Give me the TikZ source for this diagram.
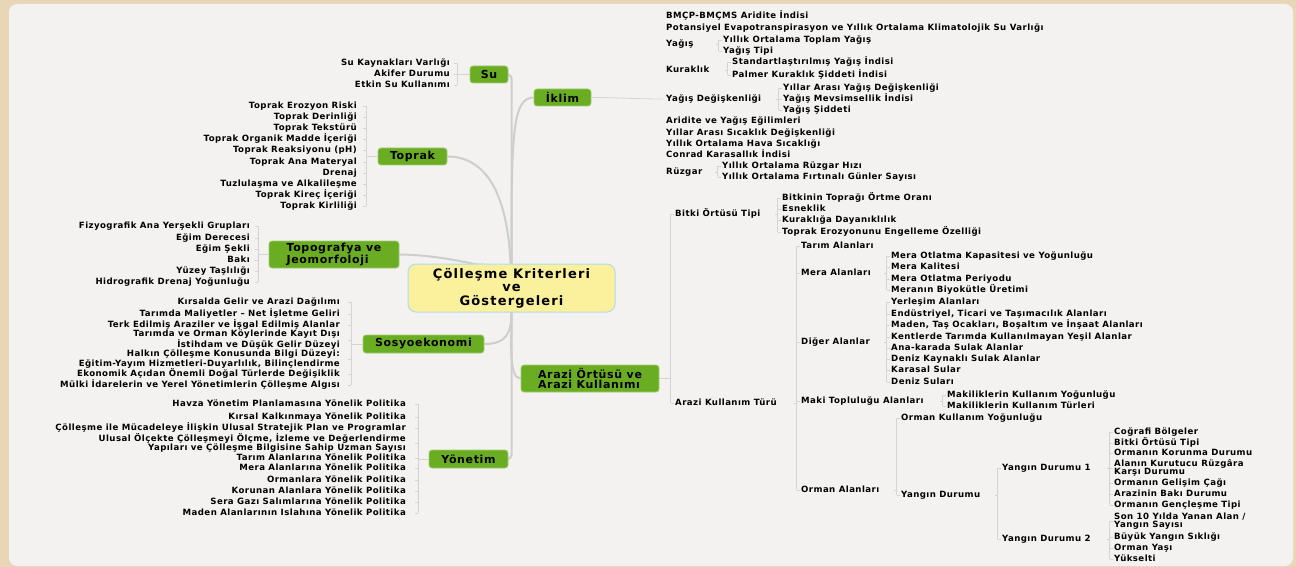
\documentclass[tikz,border=0pt]{standalone}
\usepackage{fontspec}
\setmainfont{DejaVu Sans}
\newfontfamily\leaffont[LetterSpace=5]{DejaVu Sans}
\newfontfamily\branchfont[LetterSpace=6]{DejaVu Sans}
\newfontfamily\titlefont[LetterSpace=9]{DejaVu Sans}
\definecolor{beige}{RGB}{233,214,182}
\definecolor{panel}{RGB}{243,242,240}
\definecolor{boxgreen}{RGB}{106,173,35}
\definecolor{boxedge}{RGB}{160,205,110}
\definecolor{rootfill}{RGB}{251,240,155}
\definecolor{rootedge}{RGB}{175,222,232}
\definecolor{linegray}{RGB}{206,206,206}
\definecolor{brkgray}{RGB}{212,212,212}
\pgfdeclarelayer{bg}
\pgfdeclarelayer{lines}
\pgfsetlayers{bg,lines,main}
% right-side bracket: parent, first child, last child, all children
\newcommand\brR[4]{%
  \coordinate (#2br) at ([xshift=-4.5]#2.west);
  \coordinate (#3br) at ([xshift=-4.5]#3.west);
  \draw[brk] (#2br) -- (#3br);
  \foreach \ch in {#4}{\draw[brk] ([xshift=-4.5]\ch.west) -- ([xshift=-1.5]\ch.west);}
  \draw[brk] (#2br |- #1.east) -- ++(-3,0);
}
% left-side bracket: offset, parent box, first child, last child, all children
\newcommand\brL[5]{%
  \coordinate (#3br) at ([xshift=#1]#3.east);
  \coordinate (#4br) at ([xshift=#1]#4.east);
  \draw[brk] (#3br) -- (#4br);
  \foreach \ch in {#5}{\draw[brk] ([xshift=#1]\ch.east) -- ([xshift=#1-3]\ch.east);}
  \draw[brk] (#2.west) -- (#3br |- #2.west);
}
\begin{document}
\begin{tikzpicture}[x=1pt,y=-1pt,
  leafbase/.style={inner sep=0pt, font=\leaffont\bfseries\fontsize{8.6}{8.3}\selectfont},
  leaf/.style={leafbase, text height=6.3pt, text depth=1.6pt},
  lleaf/.style={leaf, anchor=east, align=right},
  rleaf/.style={leaf, anchor=west, align=left},
  lmleaf/.style={leafbase, anchor=east, align=right},
  rmleaf/.style={leafbase, anchor=west, align=left},
  gbox/.style={fill=boxgreen, draw=boxedge, line width=0.8pt, rounded corners=3pt,
    font=\branchfont\bfseries\fontsize{11}{10.5}\selectfont, inner sep=0pt, align=left},
  rootbox/.style={fill=rootfill, draw=rootedge, line width=1pt, rounded corners=8pt,
    font=\titlefont\bfseries\fontsize{13}{13.5}\selectfont, inner sep=0pt, align=center},
  brk/.style={draw=brkgray, line width=0.8pt},
  main/.style={draw=linegray, line width=2pt},
]
\useasboundingbox (0,0) rectangle (1296,567);
\begin{pgfonlayer}{bg}
\fill[beige] (0,0) rectangle (1296,567);
\fill[panel, rounded corners=8pt] (9,4) rectangle (1293,566);
\end{pgfonlayer}

% ---------- main nodes ----------
\node[rootbox, minimum width=207pt, minimum height=48pt] (root) at (511.5,288) {Çölleşme Kriterleri\\ve\\Göstergeleri};
\node[gbox, minimum width=38pt, minimum height=17pt] (su) at (489,74.5) {Su};
\node[gbox, minimum width=57pt, minimum height=17pt] (iklim) at (562.5,97.5) {İklim};
\node[gbox, minimum width=69pt, minimum height=17pt] (toprak) at (412.5,156.5) {Toprak};
\node[gbox, minimum width=130pt, minimum height=27pt] (topo) at (334,254.5) {Topografya ve\\Jeomorfoloji};
\node[gbox, minimum width=121pt, minimum height=18pt] (sosyo) at (423.5,344) {Sosyoekonomi};
\node[gbox, minimum width=138pt, minimum height=27pt] (arazi) at (590,378.5) {Arazi Örtüsü ve\\Arazi Kullanımı};
\node[gbox, minimum width=79pt, minimum height=18pt] (yonetim) at (468.5,459) {Yönetim};

% ---------- Su ----------
\node[lleaf] (su1) at (450,63) {Su Kaynakları Varlığı};
\node[lleaf] (su2) at (450,74) {Akifer Durumu};
\node[lleaf] (su3) at (450,85) {Etkin Su Kullanımı};
\brL{7}{su}{su1}{su3}{su1,su2,su3}

% ---------- Toprak ----------
\node[lleaf] (t1) at (357,106) {Toprak Erozyon Riski};
\node[lleaf] (t2) at (357,117) {Toprak Derinliği};
\node[lleaf] (t3) at (357,128) {Toprak Tekstürü};
\node[lleaf] (t4) at (357,139) {Toprak Organik Madde İçeriği};
\node[lleaf] (t5) at (357,150) {Toprak Reaksiyonu (pH)};
\node[lleaf] (t6) at (357,162) {Toprak Ana Materyal};
\node[lleaf] (t7) at (357,173) {Drenaj};
\node[lleaf] (t8) at (357,184) {Tuzlulaşma ve Alkalileşme};
\node[lleaf] (t9) at (357,195) {Toprak Kireç İçeriği};
\node[lleaf] (t10) at (357,206) {Toprak Kirliliği};
\brL{9}{toprak}{t1}{t10}{t1,t2,t3,t4,t5,t6,t7,t8,t9,t10}

% ---------- Topografya ----------
\node[lleaf] (g1) at (250,226) {Fizyografik Ana Yerşekli Grupları};
\node[lleaf] (g2) at (250,238) {Eğim Derecesi};
\node[lleaf] (g3) at (250,249) {Eğim Şekli};
\node[lleaf] (g4) at (250,260) {Bakı};
\node[lleaf] (g5) at (250,271) {Yüzey Taşlılığı};
\node[lleaf] (g6) at (250,282) {Hidrografik Drenaj Yoğunluğu};
\brL{8}{topo}{g1}{g6}{g1,g2,g3,g4,g5,g6}

% ---------- Sosyoekonomi ----------
\node[lleaf] (s1) at (340,302) {Kırsalda Gelir ve Arazi Dağılımı};
\node[lleaf] (s2) at (340,314) {Tarımda Maliyetler – Net İşletme Geliri};
\node[lleaf] (s3) at (340,325) {Terk Edilmiş Araziler ve İşgal Edilmiş Alanlar};
\node[lmleaf] (s4) at (340,340) {Tarımda ve Orman Köylerinde Kayıt Dışı\\İstihdam ve Düşük Gelir Düzeyi};
\node[lmleaf] (s5) at (340,359) {Halkın Çölleşme Konusunda Bilgi Düzeyi:\\Eğitim-Yayım Hizmetleri-Duyarlılık, Bilinçlendirme};
\node[lleaf] (s6) at (340,374) {Ekonomik Açıdan Önemli Doğal Türlerde Değişiklik};
\node[lleaf] (s7) at (340,385) {Mülki İdarelerin ve Yerel Yönetimlerin Çölleşme Algısı};
\brL{11}{sosyo}{s1}{s7}{s1,s2,s3,s4,s5,s6,s7}

% ---------- Yönetim ----------
\node[lleaf] (n1) at (406,404) {Havza Yönetim Planlamasına Yönelik Politika};
\node[lleaf] (n2) at (406,417) {Kırsal Kalkınmaya Yönelik Politika};
\node[lleaf] (n3) at (406,428) {Çölleşme ile Mücadeleye İlişkin Ulusal Stratejik Plan ve Programlar};
\node[lmleaf] (n4) at (406,443) {Ulusal Ölçekte Çölleşmeyi Ölçme, İzleme ve Değerlendirme\\Yapıları ve Çölleşme Bilgisine Sahip Uzman Sayısı};
\node[lleaf] (n5) at (406,458) {Tarım Alanlarına Yönelik Politika};
\node[lleaf] (n6) at (406,468) {Mera Alanlarına Yönelik Politika};
\node[lleaf] (n7) at (406,480) {Ormanlara Yönelik Politika};
\node[lleaf] (n8) at (406,491) {Korunan Alanlara Yönelik Politika};
\node[lleaf] (n9) at (406,502) {Sera Gazı Salımlarına Yönelik Politika};
\node[lleaf] (n10) at (406,513) {Maden Alanlarının Islahına Yönelik Politika};
\brL{12}{yonetim}{n1}{n10}{n1,n2,n3,n4,n5,n6,n7,n8,n9,n10}

% ---------- İklim ----------
\node[rleaf] (i1) at (666,16) {BMÇP-BMÇMS Aridite İndisi};
\node[rleaf] (i2) at (666,28) {Potansiyel Evapotranspirasyon ve Yıllık Ortalama Klimatolojik Su Varlığı};
\node[rleaf] (i3) at (666,44) {Yağış};
\node[rleaf] (i3a) at (723,40) {Yıllık Ortalama Toplam Yağış};
\node[rleaf] (i3b) at (723,51) {Yağış Tipi};
\node[rleaf] (i4) at (666,70) {Kuraklık};
\node[rleaf] (i4a) at (732,62) {Standartlaştırılmış Yağış İndisi};
\node[rleaf] (i4b) at (732,75) {Palmer Kuraklık Şiddeti İndisi};
\node[rleaf] (i5) at (666,99) {Yağış Değişkenliği};
\node[rleaf] (i5a) at (783,88) {Yıllar Arası Yağış Değişkenliği};
\node[rleaf] (i5b) at (783,99) {Yağış Mevsimsellik İndisi};
\node[rleaf] (i5c) at (783,110) {Yağış Şiddeti};
\node[rleaf] (i6) at (666,121) {Aridite ve Yağış Eğilimleri};
\node[rleaf] (i7) at (666,133) {Yıllar Arası Sıcaklık Değişkenliği};
\node[rleaf] (i8) at (666,144) {Yıllık Ortalama Hava Sıcaklığı};
\node[rleaf] (i9) at (666,155) {Conrad Karasallık İndisi};
\node[rleaf] (i10) at (666,172) {Rüzgar};
\node[rleaf] (i10a) at (722,166) {Yıllık Ortalama Rüzgar Hızı};
\node[rleaf] (i10b) at (722,177) {Yıllık Ortalama Fırtınalı Günler Sayısı};
\brR{i3}{i3a}{i3b}{i3a,i3b}
\brR{i4}{i4a}{i4b}{i4a,i4b}
\brR{i5}{i5a}{i5c}{i5a,i5b,i5c}
\brR{i10}{i10a}{i10b}{i10a,i10b}
\draw[brk] (iklim.east) to[out=0,in=180] ([xshift=-3]i5.west);

% ---------- Arazi ----------
\node[rleaf] (a1) at (675,214) {Bitki Örtüsü Tipi};
\node[rleaf] (a1a) at (782,198) {Bitkinin Toprağı Örtme Oranı};
\node[rleaf] (a1b) at (782,209) {Esneklik};
\node[rleaf] (a1c) at (782,220) {Kuraklığa Dayanıklılık};
\node[rleaf] (a1d) at (782,232) {Toprak Erozyonunu Engelleme Özelliği};
\node[rleaf] (a2) at (675,403) {Arazi Kullanım Türü};
\node[rleaf] (k1) at (801,246) {Tarım Alanları};
\node[rleaf] (k2) at (801,273) {Mera Alanları};
\node[rleaf] (m1) at (891,256) {Mera Otlatma Kapasitesi ve Yoğunluğu};
\node[rleaf] (m2) at (891,267) {Mera Kalitesi};
\node[rleaf] (m3) at (891,279) {Mera Otlatma Periyodu};
\node[rleaf] (m4) at (891,290) {Meranın Biyokütle Üretimi};
\node[rleaf] (k3) at (801,342) {Diğer Alanlar};
\node[rleaf] (d1) at (891,302) {Yerleşim Alanları};
\node[rleaf] (d2) at (891,314) {Endüstriyel, Ticari ve Taşımacılık Alanları};
\node[rleaf] (d3) at (891,325) {Maden, Taş Ocakları, Boşaltım ve İnşaat Alanları};
\node[rleaf] (d4) at (891,337) {Kentlerde Tarımda Kullanılmayan Yeşil Alanlar};
\node[rleaf] (d5) at (891,348) {Ana-karada Sulak Alanlar};
\node[rleaf] (d6) at (891,359) {Deniz Kaynaklı Sulak Alanlar};
\node[rleaf] (d7) at (891,370) {Karasal Sular};
\node[rleaf] (d8) at (891,382) {Deniz Suları};
\node[rleaf] (k4) at (801,401) {Maki Topluluğu Alanları};
\node[rleaf] (p1) at (947,395) {Makiliklerin Kullanım Yoğunluğu};
\node[rleaf] (p2) at (947,406) {Makiliklerin Kullanım Türleri};
\node[rleaf] (k5) at (801,490) {Orman Alanları};
\node[rleaf] (o1) at (901,418) {Orman Kullanım Yoğunluğu};
\node[rleaf] (o2) at (901,495) {Yangın Durumu};
\node[rleaf] (y1) at (1002,468) {Yangın Durumu 1};
\node[rleaf] (y1a) at (1114,432) {Coğrafi Bölgeler};
\node[rleaf] (y1b) at (1114,443) {Bitki Örtüsü Tipi};
\node[rleaf] (y1c) at (1114,453) {Ormanın Korunma Durumu};
\node[rmleaf] (y1d) at (1114,468) {Alanın Kurutucu Rüzgâra\\Karşı Durumu};
\node[rleaf] (y1e) at (1114,483) {Ormanın Gelişim Çağı};
\node[rleaf] (y1f) at (1114,494) {Arazinin Bakı Durumu};
\node[rleaf] (y1g) at (1114,505) {Ormanın Gençleşme Tipi};
\node[rleaf] (y2) at (1002,539) {Yangın Durumu 2};
\node[rmleaf] (y2a) at (1114,521) {Son 10 Yılda Yanan Alan /\\Yangın Sayısı};
\node[rleaf] (y2b) at (1114,537) {Büyük Yangın Sıklığı};
\node[rleaf] (y2c) at (1114,548) {Orman Yaşı};
\node[rleaf] (y2d) at (1114,559) {Yükselti};
\brR{arazi}{a1}{a2}{a1,a2}
\draw[brk] (arazi.east) -- (a1br |- arazi.east);
\brR{a1}{a1a}{a1d}{a1a,a1b,a1c,a1d}
\brR{a2}{k1}{k5}{k1,k2,k3,k4,k5}
\brR{k2}{m1}{m4}{m1,m2,m3,m4}
\brR{k3}{d1}{d8}{d1,d2,d3,d4,d5,d6,d7,d8}
\brR{k4}{p1}{p2}{p1,p2}
\brR{k5}{o1}{o2}{o1,o2}
\brR{o2}{y1}{y2}{y1,y2}
\brR{y1}{y1a}{y1g}{y1a,y1b,y1c,y1d,y1e,y1f,y1g}
\brR{y2}{y2a}{y2d}{y2a,y2b,y2c,y2d}

% ---------- main connectors ----------
\begin{pgfonlayer}{lines}
\draw[main, rounded corners=4pt] (su.east) -| (root);
\draw[main, rounded corners=4pt] (yonetim.east) -| (root);
\draw[main] (iklim.west) .. controls +(-22,0) and +(0,-150) .. (root);
\draw[main] (toprak.east) .. controls +(38,0) and +(-4,-95) .. (root);
\draw[main] (topo.east) .. controls (450,255) and (490,270) .. (root);
\draw[main] (sosyo.east) .. controls +(22,0) and +(0,45) .. (root);
\draw[main] (arazi.west) .. controls +(-12,0) and +(0,55) .. (root);
\end{pgfonlayer}
\end{tikzpicture}
\end{document}
